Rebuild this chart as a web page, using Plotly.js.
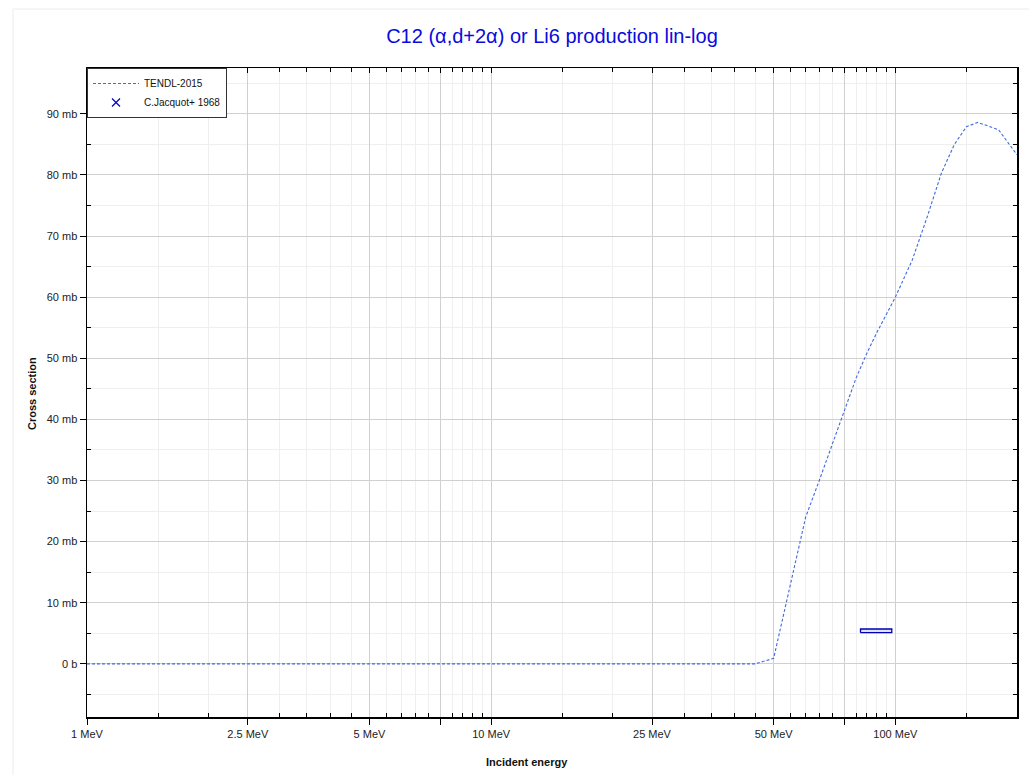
<!DOCTYPE html>
<html>
<head>
<meta charset="utf-8">
<script src="https://cdn.plot.ly/plotly-3.0.1.min.js"></script>
<style>html,body{margin:0;padding:0;background:#fff;}#chart{width:1029px;height:775px;}</style>
</head>
<body>
<div id="chart"></div>
<script>
// TENDL-2015 evaluation (energy in MeV, cross section in mb)
const tendlEnergy = [1, 45, 50, 60, 65, 70, 75, 80, 85, 90, 100, 110, 120, 130, 140, 150, 160, 180, 200];
const tendlSigma  = [0, 0, 0.9, 24, 30.2, 36, 41.5, 46.8, 50.8, 54.2, 60, 66, 73.2, 80.3, 85, 87.9, 88.6, 87.4, 83.3];

// C.Jacquot+ 1968 experimental point
const expEnergy = [90];
const expEnergyErr = [8];
const expSigma = [5.4];
const expSigmaErr = [0.3];

// axis ticks
const xMajorVals = [1, 2.5, 5, 7.5, 10, 25, 50, 75, 100, 250];
const xMajorText = ['1 MeV', '2.5 MeV', '5 MeV', '', '10 MeV', '25 MeV', '50 MeV', '', '100 MeV', '250 MeV'];
const xMinorVals = [1.5, 2, 3, 3.5, 4, 4.5, 5.5, 6, 6.5, 7, 8, 8.5, 9, 9.5,
  15, 20, 30, 35, 40, 45, 55, 60, 65, 70, 80, 85, 90, 95, 150, 200];
const yMajorVals = [0, 10, 20, 30, 40, 50, 60, 70, 80, 90];
const yMajorText = ['0 b', '10 mb', '20 mb', '30 mb', '40 mb', '50 mb', '60 mb', '70 mb', '80 mb', '90 mb'];
const yMinorVals = [-5, 5, 15, 25, 35, 45, 55, 65, 75, 85, 95];

const xRange = [0, Math.log10(200)];
const yRange = [-8.7, 97.5];

// box polygon for the experimental point built from its value and uncertainties
const boxX = [], boxY = [];
for (let i = 0; i < expEnergy.length; i++) {
  const x0 = expEnergy[i] - expEnergyErr[i], x1 = expEnergy[i] + expEnergyErr[i];
  const y0 = expSigma[i] - expSigmaErr[i], y1 = expSigma[i] + expSigmaErr[i];
  boxX.push(x0, x1, x1, x0, x0, null);
  boxY.push(y0, y0, y1, y1, y0, null);
}

const traces = [
  {
    type: 'scatter', mode: 'lines', name: 'TENDL-2015',
    x: tendlEnergy, y: tendlSigma,
    line: {color: '#4169e1', width: 1.1, dash: '3px,2px'}
  },
  {
    type: 'scatter', mode: 'lines', name: 'C.Jacquot+ 1968 box', showlegend: false,
    x: boxX, y: boxY, fill: 'toself', fillcolor: 'rgba(200,210,255,0.6)',
    line: {color: '#0000b0', width: 1.3}, hoverinfo: 'skip'
  },
  {
    type: 'scatter', mode: 'markers', name: 'C.Jacquot+ 1968',
    x: [null], y: [null],
    marker: {symbol: 'x-thin-open', size: 8, color: '#0000cc', line: {color: '#0000cc', width: 1.2}}
  },
  {
    // empty carrier so the top/right frame axes are drawn
    type: 'scatter', mode: 'markers', name: 'frame', showlegend: false,
    x: [null], y: [null], xaxis: 'x2', yaxis: 'y2', hoverinfo: 'skip'
  }
];

const gridMajor = '#d0d0d0', gridMinor = '#efefef';

const layout = {
  width: 1029, height: 775,
  paper_bgcolor: '#ffffff', plot_bgcolor: '#ffffff',
  margin: {l: 87, r: 12, t: 68, b: 58},
  font: {family: 'Liberation Sans, Arial, sans-serif', size: 11, color: '#222'},
  title: {
    text: 'C12 (α,d+2α) or Li6 production lin-log',
    font: {family: 'Liberation Sans, Arial, sans-serif', size: 20, color: '#0a0adc'},
    x: 0.5, xref: 'paper', xanchor: 'center',
    y: 1 - 36 / 775, yref: 'container', yanchor: 'middle'
  },
  showlegend: true,
  legend: {
    x: 0, y: 1, xanchor: 'left', yanchor: 'top',
    bgcolor: '#ffffff', bordercolor: '#333', borderwidth: 1,
    font: {size: 10, color: '#111'}, tracegroupgap: 0, itemwidth: 46
  },
  xaxis: {
    type: 'log', range: xRange,
    tickmode: 'array', tickvals: xMajorVals, ticktext: xMajorText,
    ticks: 'outside', ticklen: 6, tickcolor: '#000', tickwidth: 1,
    showline: true, linecolor: '#000', linewidth: 1.5, mirror: false,
    showgrid: true, gridcolor: gridMajor, gridwidth: 1,
    zeroline: false,
    minor: {tickmode: 'array', tickvals: xMinorVals, ticks: 'inside', ticklen: 4, tickcolor: '#000',
      showgrid: true, gridcolor: gridMinor, gridwidth: 1},
    tickfont: {size: 11, color: '#222'}
  },
  yaxis: {
    range: yRange,
    tickmode: 'array', tickvals: yMajorVals, ticktext: yMajorText,
    ticks: 'outside', ticklen: 6, tickcolor: '#000', tickwidth: 1,
    showline: true, linecolor: '#000', linewidth: 1.5, mirror: false,
    showgrid: true, gridcolor: gridMajor, gridwidth: 1,
    zeroline: false,
    minor: {tickmode: 'array', tickvals: yMinorVals, ticks: 'inside', ticklen: 4, tickcolor: '#000',
      showgrid: true, gridcolor: gridMinor, gridwidth: 1},
    tickfont: {size: 11, color: '#222'}
  },
  xaxis2: {
    type: 'log', range: xRange, overlaying: 'x', side: 'top', anchor: 'y2',
    tickmode: 'array', tickvals: xMajorVals, showticklabels: false,
    ticks: 'inside', ticklen: 5, tickcolor: '#000',
    showline: true, linecolor: '#000', linewidth: 1.5, showgrid: false, zeroline: false,
    minor: {tickmode: 'array', tickvals: xMinorVals, ticks: 'inside', ticklen: 4, tickcolor: '#000', showgrid: false}
  },
  yaxis2: {
    range: yRange, overlaying: 'y', side: 'right', anchor: 'x2',
    tickmode: 'array', tickvals: yMajorVals, showticklabels: false,
    ticks: 'inside', ticklen: 5, tickcolor: '#000',
    showline: true, linecolor: '#000', linewidth: 1.5, showgrid: false, zeroline: false,
    minor: {tickmode: 'array', tickvals: yMinorVals, ticks: 'inside', ticklen: 4, tickcolor: '#000', showgrid: false}
  },
  annotations: [
    {text: '<b>Incident energy</b>', xref: 'paper', yref: 'paper',
      x: (527 - 87) / 930, y: -(762 - 717) / 649, xanchor: 'center', yanchor: 'middle',
      showarrow: false, font: {size: 11, color: '#111'}},
    {text: '<b>Cross section</b>', xref: 'paper', yref: 'paper', textangle: -90,
      x: -(87 - 32) / 930, y: (717 - 394) / 649, xanchor: 'center', yanchor: 'middle',
      showarrow: false, font: {size: 11, color: '#111'}}
  ],
  shapes: [
    {type: 'rect', xref: 'paper', yref: 'paper', layer: 'below',
      x0: -(87 - 13) / 930, x1: 1.05, y0: -0.2, y1: (717 - 9) / 649,
      line: {color: '#ececec', width: 1}, fillcolor: 'rgba(0,0,0,0)'}
  ]
};

Plotly.newPlot('chart', traces, layout, {displayModeBar: false, staticPlot: true});
</script>
</body>
</html>
